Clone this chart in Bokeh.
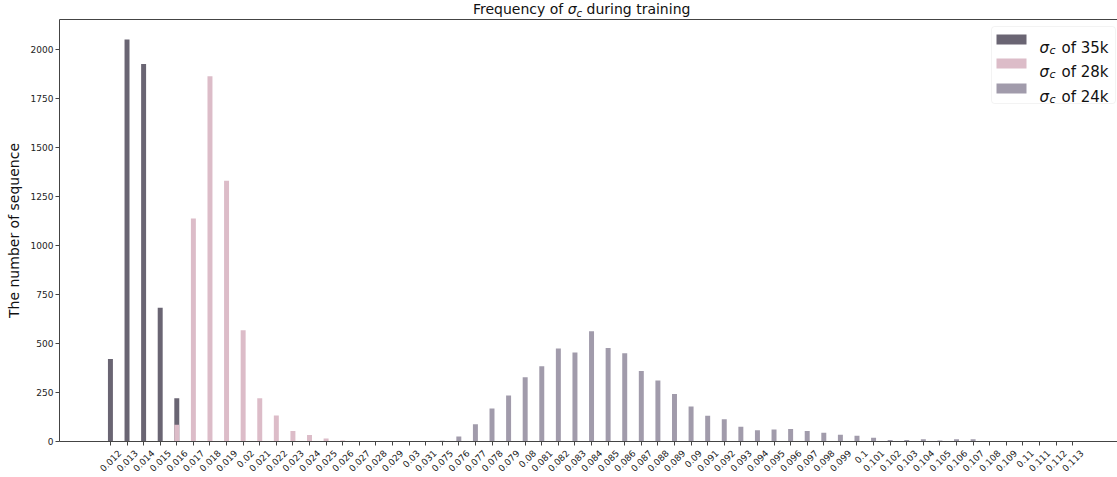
import math
from bokeh.plotting import figure
from bokeh.layouts import column
from bokeh.models import Range1d, FixedTicker, Label, BoxAnnotation, LinearAxis, Div
from bokeh.embed import file_html
from bokeh.resources import INLINE

# ---------------- data ----------------
categories = ["0.012", "0.013", "0.014", "0.015", "0.016", "0.017", "0.018", "0.019", "0.02",
              "0.021", "0.022", "0.023", "0.024", "0.025", "0.026", "0.027", "0.028", "0.029",
              "0.03", "0.031", "0.075", "0.076", "0.077", "0.078", "0.079", "0.08", "0.081",
              "0.082", "0.083", "0.084", "0.085", "0.086", "0.087", "0.088", "0.089", "0.09",
              "0.091", "0.092", "0.093", "0.094", "0.095", "0.096", "0.097", "0.098", "0.099",
              "0.1", "0.101", "0.102", "0.103", "0.104", "0.105", "0.106", "0.107", "0.108",
              "0.109", "0.11", "0.111", "0.112", "0.113"]

cats_35k = ["0.012", "0.013", "0.014", "0.015", "0.016"]
vals_35k = [421, 2050, 1925, 682, 220]

cats_28k = ["0.016", "0.017", "0.018", "0.019", "0.02", "0.021", "0.022", "0.023", "0.024",
            "0.025", "0.026", "0.027", "0.028", "0.029", "0.03", "0.031"]
vals_28k = [85, 1138, 1863, 1330, 567, 220, 132, 53, 33, 15, 5, 2, 1, 1, 1, 1]

cats_24k = ["0.075", "0.076", "0.077", "0.078", "0.079", "0.08", "0.081", "0.082", "0.083",
            "0.084", "0.085", "0.086", "0.087", "0.088", "0.089", "0.09", "0.091", "0.092",
            "0.093", "0.094", "0.095", "0.096", "0.097", "0.098", "0.099", "0.1", "0.101",
            "0.102", "0.103", "0.104", "0.105", "0.106", "0.107", "0.108", "0.109", "0.11",
            "0.111", "0.112", "0.113"]
vals_24k = [4, 25, 88, 168, 234, 328, 384, 475, 454, 562, 477, 450, 359, 311, 242, 178, 131,
            114, 75, 58, 61, 64, 54, 44, 34, 29, 19, 8, 8, 12, 5, 12, 12, 3, 1, 1, 1, 1, 1]

y_ticks = [0, 250, 500, 750, 1000, 1250, 1500, 1750, 2000]

series_labels = ["35k", "28k", "24k"]
colors = ["#6a6573", "#dcbcc8", "#a19bab"]

# ---------------- layout ----------------
W = 1117
TITLE_H = 19
H = 477 - TITLE_H
BL, BT, BR = 59, 0, 0
FRAME_H = 422
FRAME_W = W - BL - BR
UNIT = 16.59          # px per category
x0 = -3.07
x1 = x0 + FRAME_W / UNIT
ymax = max(vals_35k) * 1.05
LAB_SHIFT = 0.55      # shift of right-aligned rotated labels so they sit centred on ticks

FL_PX = BL
FB_PX = TITLE_H + BT + FRAME_H   # frame bottom in page px


def sx(px):
    return px - FL_PX


def sy(py):
    return FB_PX - py


FONT = "DejaVu Sans"
AX = "#444444"

title = Div(width=W, height=TITLE_H, margin=0,
            text=("<div style=\"margin-left:473px; white-space:nowrap; line-height:19px; "
                  "font-family:'DejaVu Sans'; font-size:14px; color:#111111;\">"
                  "Frequency of <i>σ</i><span style=\"position:relative; top:2.5px; "
                  "font-size:10px; font-style:italic;\">c</span> during training</div>"))

p = figure(width=W, height=H, output_backend="svg", toolbar_location=None,
           x_range=Range1d(x0, x1), y_range=Range1d(0, ymax), x_axis_location=None,
           min_border_left=BL, min_border_top=BT, min_border_right=BR,
           min_border_bottom=H - BT - FRAME_H, margin=0)
p.grid.visible = False
p.outline_line_color = None
p.background_fill_color = "white"
p.border_fill_color = "white"

for cats, vals, col in [(cats_35k, vals_35k, colors[0]),
                        (cats_28k, vals_28k, colors[1]),
                        (cats_24k, vals_24k, colors[2])]:
    xs = [categories.index(c) for c in cats]
    p.vbar(x=xs, top=vals, width=0.3, fill_color=col, line_color=None)

# x axis: labels on a shifted range, tick marks drawn as minor ticks at the bar centres
idx = list(range(len(categories)))
p.extra_x_ranges = {"lab": Range1d(x0 - LAB_SHIFT, x1 - LAB_SHIFT)}
xa = LinearAxis(x_range_name="lab",
                ticker=FixedTicker(ticks=idx, minor_ticks=[i - LAB_SHIFT for i in idx]),
                major_label_overrides={i: c for i, c in enumerate(categories)},
                major_label_orientation=math.pi / 4,
                major_label_text_font=FONT, major_label_text_font_size="9px",
                major_label_text_color="#222222", major_label_standoff=6,
                major_tick_line_color=None, major_tick_in=0, major_tick_out=0,
                minor_tick_line_color=AX, minor_tick_in=0, minor_tick_out=4,
                axis_line_color=AX)
p.add_layout(xa, "below")

ya = p.yaxis[0]
ya.ticker = FixedTicker(ticks=y_ticks)
ya.major_label_text_font = FONT
ya.major_label_text_font_size = "9px"
ya.major_label_text_color = "#222222"
ya.major_label_standoff = 2
ya.minor_tick_line_color = None
ya.major_tick_in = 0
ya.major_tick_out = 4
ya.axis_line_color = AX
ya.major_tick_line_color = AX
ya.axis_label = "The number of sequence"
ya.axis_label_text_font = FONT
ya.axis_label_text_font_style = "normal"
ya.axis_label_text_font_size = "14px"
ya.axis_label_text_color = "#111111"
ya.axis_label_standoff = 6

top_axis = LinearAxis(ticker=FixedTicker(ticks=[]), major_label_text_font_size="0px",
                      major_label_standoff=0, major_tick_in=0, major_tick_out=0,
                      major_tick_line_color=None, minor_tick_line_color=None,
                      minor_tick_in=0, minor_tick_out=0, axis_line_color=AX)
p.add_layout(top_axis, "above")


def lab(text, px, py, size, style="normal", color="#111111"):
    p.add_layout(Label(x=sx(px), y=sy(py), x_units="screen", y_units="screen", text=text,
                       text_font=FONT, text_font_size=size, text_font_style=style,
                       text_color=color, text_baseline="alphabetic", text_align="left"))


# ---------------- legend ----------------
p.add_layout(BoxAnnotation(left=sx(991), right=sx(1115), top=sy(26), bottom=sy(103),
                           left_units="screen", right_units="screen", top_units="screen",
                           bottom_units="screen", fill_color="white", fill_alpha=0.85,
                           line_color="#d6d6d6", line_width=1, border_radius=3))
row_y = [39, 63, 88]
for i in range(3):
    cy = row_y[i]
    p.add_layout(BoxAnnotation(left=sx(996), right=sx(1026), top=sy(cy - 5),
                               bottom=sy(cy + 5), left_units="screen", right_units="screen",
                               top_units="screen", bottom_units="screen",
                               fill_color=colors[i], fill_alpha=1.0, line_color=None))
    base = cy + 8
    lab("σ", 1039, base, "15px", "italic")
    lab("c", 1049, base + 3, "11px", "italic")
    lab("of " + series_labels[i], 1061, base, "15px")

layout = column(title, p, spacing=0, margin=0)
open("out.html", "w").write(file_html(layout, INLINE))
